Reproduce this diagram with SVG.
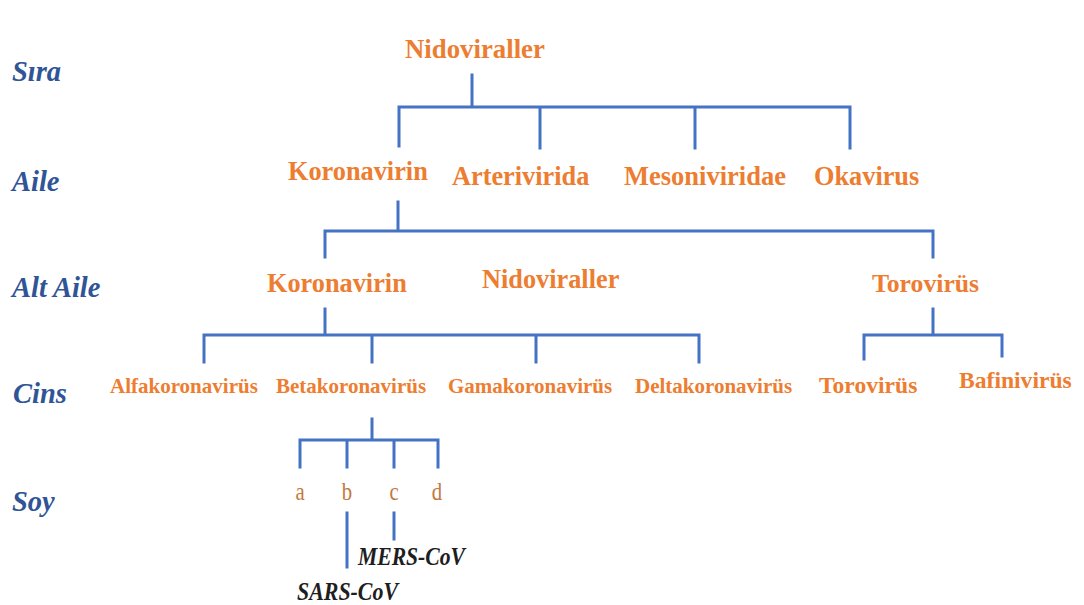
<svg xmlns="http://www.w3.org/2000/svg" width="1084" height="605" viewBox="0 0 1084 605">
<style>
.rank{font-family:"Liberation Serif","Times New Roman",serif;font-weight:bold;font-style:italic;fill:#2f5597;font-size:28.5px}
.t{font-family:"Liberation Serif","Times New Roman",serif;font-weight:bold;fill:#ed7d31}
.big{font-size:26.3px}
.gen{font-size:21px}
.gen2{font-size:23.6px}
.sp{font-family:"Liberation Serif","Times New Roman",serif;fill:#c4773d;font-size:26px;text-anchor:middle}
.str{font-family:"Liberation Serif","Times New Roman",serif;font-weight:bold;font-style:italic;fill:#1e1e1e;font-size:25.5px}
.c{fill:none;stroke:#4472c4;stroke-width:3;stroke-linecap:square}
</style>
<rect width="1084" height="605" fill="#ffffff"/>
<g id="ranks">
<text class="rank" x="12" y="81">Sıra</text>
<text class="rank" x="12" y="191">Aile</text>
<text class="rank" x="12" y="297">Alt Aile</text>
<text class="rank" x="13" y="403">Cins</text>
<text class="rank" x="12" y="511">Soy</text>
</g>
<g id="connectors">
<path class="c" d="M472 75V107M399 146V107H850V148M540 107V148M695 107V148"/>
<path class="c" d="M398 202V231M325 257V231H933V257"/>
<path class="c" d="M325 309V335M204 362V335H699V362M372 335V362M536 335V362"/>
<path class="c" d="M933 309V335M864 359V335H1002V356"/>
<path class="c" d="M372 419V440M300 467V440H438V467M347 440V467M394 440V467"/>
<path class="c" d="M347 513V567M394 513V539"/>
</g>
<g id="n-nidoviraller"><text class="t" x="405" y="58" style="font-size:26.8px">Nidoviraller</text></g>
<g id="n-koronavirin-aile"><text class="t big" x="288" y="180">Koronavirin</text></g>
<g id="n-arterivirida"><text class="t big" x="452" y="185">Arterivirida</text></g>
<g id="n-mesoniviridae"><text class="t big" x="624" y="185" style="font-size:26.5px">Mesoniviridae</text></g>
<g id="n-okavirus"><text class="t big" x="814" y="185">Okavirus</text></g>
<g id="n-koronavirin-alt"><text class="t big" x="267" y="292">Koronavirin</text></g>
<g id="n-nidoviraller-alt"><text class="t big" x="482" y="288">Nidoviraller</text></g>
<g id="n-torovirus-alt"><text class="t big" x="872" y="292" style="font-size:25.7px">Torovirüs</text></g>
<g id="n-alfa"><text class="t gen" x="110" y="393">Alfakoronavirüs</text></g>
<g id="n-beta"><text class="t gen" x="276" y="393">Betakoronavirüs</text></g>
<g id="n-gama"><text class="t gen" x="448" y="393">Gamakoronavirüs</text></g>
<g id="n-delta"><text class="t gen" x="635" y="393">Deltakoronavirüs</text></g>
<g id="n-torovirus"><text class="t gen2" x="819" y="393">Torovirüs</text></g>
<g id="n-bafinivirus"><text class="t gen2" x="959" y="388">Bafinivirüs</text></g>
<g id="n-a"><text class="sp" transform="translate(300 500) scale(0.8 1)">a</text></g>
<g id="n-b"><text class="sp" transform="translate(347 500) scale(0.8 1)">b</text></g>
<g id="n-c"><text class="sp" transform="translate(394 500) scale(0.8 1)">c</text></g>
<g id="n-d"><text class="sp" transform="translate(437 500) scale(0.8 1)">d</text></g>
<g id="n-mers"><text class="str" x="358" y="565" textLength="107" lengthAdjust="spacingAndGlyphs">MERS-CoV</text></g>
<g id="n-sars"><text class="str" x="297" y="600" textLength="101" lengthAdjust="spacingAndGlyphs">SARS-CoV</text></g>
</svg>
